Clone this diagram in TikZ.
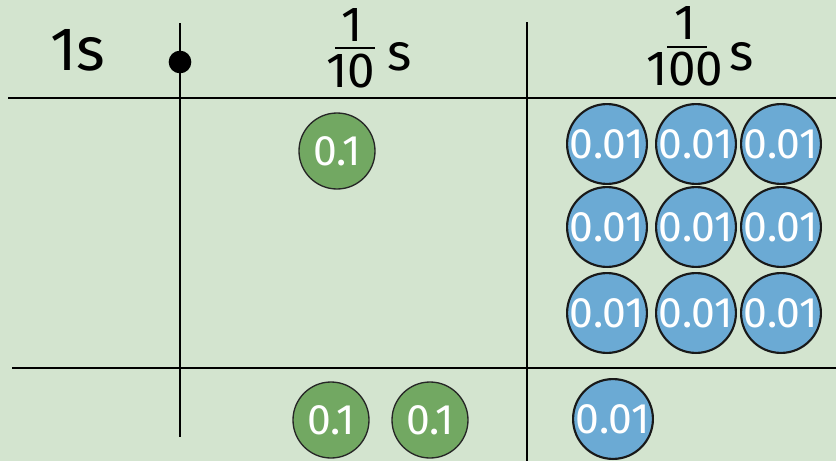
\documentclass[tikz,border=0pt]{standalone}
\usepackage{fontspec}
\setmainfont{Fira Sans}
\usetikzlibrary{positioning}
\definecolor{paper}{HTML}{D3E4CF}
\definecolor{tenthgreen}{HTML}{72A862}
\definecolor{hundblue}{HTML}{6BAAD4}

\tikzset{
  coin/.style={circle, minimum size=57pt, inner sep=0pt, text=white,
    font=\fontsize{32}{32}\selectfont},
  tenthcoin/.style={coin, draw=black!85, line width=1pt, fill=tenthgreen},
  hundcoin/.style={coin, draw=black!90, line width=1.6pt, fill=hundblue},
  headtext/.style={anchor=base, inner sep=0pt, text height=20pt, text depth=0pt,
    font=\fontsize{37}{37}\selectfont},
}

\begin{document}
\begin{tikzpicture}[x=0.75pt,y=-0.75pt]
\fill[paper] (0,0) rectangle (836,461);
\useasboundingbox (0,0) rectangle (836,461);
% table lines
\draw[line width=2.2pt] (8,98) -- (836,98);
\draw[line width=1.4pt] (12,368) -- (836,368);
\draw[line width=1.3pt] (180,23) -- (180,437);
\draw[line width=1.3pt] (527,22) -- (527,461);
\fill (180,62) circle (8.5pt);
% column heads
\node[headtext, font=\fontsize{46}{46}\selectfont, text height=26pt] (ones) at (78,70) {1s};
\node[headtext] (tnum) at (352,41) {1};
\node[headtext] (tden) at (351,87) {10};
\draw[line width=1.6pt] (335,48) -- (375,48);
\node[headtext, font=\fontsize{39}{39}\selectfont] (ts) at (400,70) {s};
\node[headtext] (hnum) at (685,39) {1};
\node[headtext] (hden) at (685,85) {100};
\draw[line width=1.6pt] (667,47) -- (707,47);
\node[headtext, font=\fontsize{39}{39}\selectfont] (hs) at (742,70) {s};
% tenths
\node[tenthcoin] (t1) at (337,151) {0.1};
\node[tenthcoin] (t2) at (331,420) {0.1};
\node[tenthcoin] (t3) at (430,420) {0.1};
% hundredths
\foreach \r/\y in {1/144,2/227,3/313}
  \foreach \c/\x in {1/607,2/696,3/781}
    \node[hundcoin] (h\r\c) at (\x,\y) {0.01};
\node[hundcoin] (h41) at (613,419) {0.01};
\end{tikzpicture}
\end{document}
